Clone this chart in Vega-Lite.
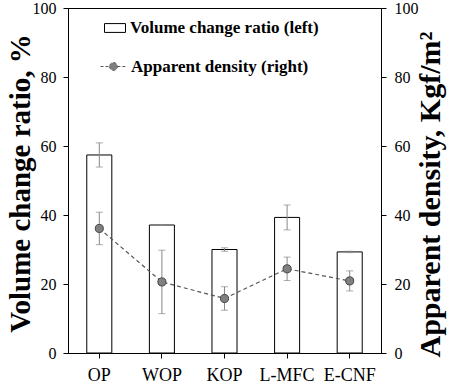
{
  "$schema": "https://vega.github.io/schema/vega-lite/v6.json",
  "width": 313,
  "height": 345,
  "autosize": "none",
  "padding": {"left": 68, "top": 8, "right": 73, "bottom": 32},
  "background": "white",
  "config": {
    "font": "Liberation Serif",
    "view": {"stroke": "black", "strokeWidth": 1},
    "axis": {"grid": false, "domainColor": "black", "tickColor": "black", "labelColor": "black", "titleColor": "black", "labelFont": "Liberation Serif", "titleFont": "Liberation Serif"},
    "legend": {"labelFont": "Liberation Serif", "labelFontWeight": "bold", "labelFontSize": 17, "labelColor": "black", "padding": 0, "labelLimit": 400}
  },
  "data": {
    "values": [
      {"sample": "OP", "vol": 57.4, "volErr": 3.5, "dens": 36.1, "densErr": 4.7},
      {"sample": "WOP", "vol": 37.1, "volErr": 0.1, "dens": 20.6, "densErr": 9.2},
      {"sample": "KOP", "vol": 30.0, "volErr": 0.5, "dens": 15.8, "densErr": 3.4},
      {"sample": "L-MFC", "vol": 39.3, "volErr": 3.6, "dens": 24.4, "densErr": 3.4},
      {"sample": "E-CNF", "vol": 29.3, "volErr": 0.2, "dens": 20.9, "densErr": 2.9}
    ]
  },
  "encoding": {
    "x": {
      "field": "sample", "type": "nominal", "sort": null,
      "scale": {"paddingInner": 0.6, "paddingOuter": 0.3},
      "axis": {"title": null, "labelAngle": 0, "labelFontSize": 18, "tickSize": 5, "labelPadding": 8, "domainColor": "black"}
    }
  },
  "layer": [
    {
      "encoding": {
        "y": {
          "field": "vol", "type": "quantitative",
          "scale": {"domain": [0, 100], "nice": false},
          "axis": {"orient": "left", "title": "Volume change ratio, %", "titleFontSize": 29, "titleFontWeight": "bold", "titleX": -39, "titleY": 175, "titleBaseline": "alphabetic", "titleAngle": -90, "values": [0, 20, 40, 60, 80, 100], "labelFontSize": 16, "tickSize": 5, "labelPadding": 7}
        }
      },
      "layer": [
        {
          "mark": {"type": "bar", "fill": "white", "stroke": "black", "strokeWidth": 1},
          "encoding": {
            "fill": {
              "datum": "Volume change ratio (left)",
              "scale": {"range": ["white"]},
              "legend": {"title": null, "orient": "none", "legendX": 36, "legendY": 9, "symbolType": "M-1,-0.42H1V0.42H-1Z", "symbolSize": 441, "symbolStrokeColor": "black", "symbolStrokeWidth": 1, "symbolFillColor": "white", "labelOffset": 4}
            }
          }
        },
        {
          "mark": {"type": "errorbar", "ticks": {"size": 7}, "color": "#888888"},
          "encoding": {"yError": {"field": "volErr"}}
        }
      ]
    },
    {
      "encoding": {
        "y": {
          "field": "dens", "type": "quantitative",
          "scale": {"domain": [0, 100], "nice": false},
          "axis": {"orient": "right", "title": "Apparent density, Kgf/m²", "titleFontSize": 30, "titleFontWeight": "bold", "titleX": 58, "titleY": 186, "titleBaseline": "alphabetic", "titleAngle": -90, "values": [0, 20, 40, 60, 80, 100], "labelFontSize": 16, "tickSize": 5, "labelPadding": 8}
        }
      },
      "layer": [
        {
          "mark": {"type": "line", "strokeDash": [4, 3], "strokeWidth": 1.2},
          "encoding": {
            "stroke": {
              "datum": "Apparent density (right)",
              "scale": {"range": ["#555555"]},
              "legend": {"title": null, "orient": "none", "legendX": 32, "legendY": 45, "symbolType": "M-1,0H-0.3M0.3,0H1M-0.3,0A0.3,0.3,0,1,0,0.3,0A0.3,0.3,0,1,0,-0.3,0Z", "symbolSize": 676, "symbolStrokeWidth": 1, "symbolDash": [3, 2], "labelOffset": 4, "encode": {"symbols": {"update": {"fill": {"value": "#808080"}, "stroke": {"value": "#555555"}}}}}
            }
          }
        },
        {
          "mark": {"type": "errorbar", "ticks": {"size": 7}, "color": "#888888"},
          "encoding": {"yError": {"field": "densErr"}}
        },
        {
          "mark": {"type": "point", "filled": true, "fill": "#808080", "stroke": "#444444", "strokeWidth": 1, "size": 65, "opacity": 1}
        }
      ]
    }
  ],
  "resolve": {"scale": {"y": "independent"}}
}
